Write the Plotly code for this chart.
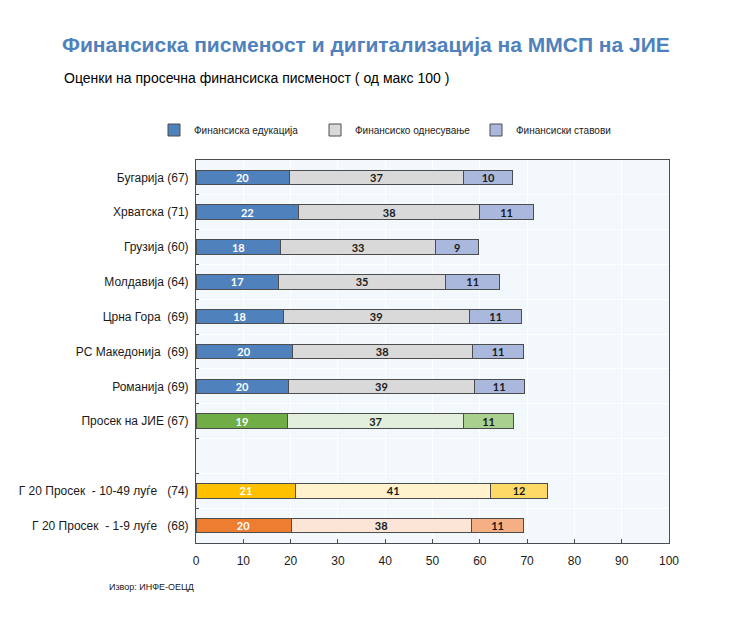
import plotly.graph_objects as go

categories = ["Бугарија (67)", "Хрватска (71)", "Грузија (60)", "Молдавија (64)",
              "Црна\u00a0Гора\u00a0\u00a0(69)", "РС\u00a0Македонија\u00a0\u00a0(69)", "Романија (69)",
              "Просек на ЈИЕ (67)", "\u00a0",
              "Г\u00a020\u00a0Просек\u00a0\u00a0-\u00a010-49\u00a0луѓе\u00a0\u00a0\u00a0(74)",
              "Г\u00a020\u00a0Просек\u00a0\u00a0-\u00a01-9\u00a0луѓе\u00a0\u00a0\u00a0(68)"]
education = [19.7, 21.7, 17.9, 17.4, 18.4, 20.3, 19.6, 19.4, None, 21.1, 20.1]
behaviour = [36.9, 38.3, 32.7, 35.4, 39.4, 38.1, 39.2, 37.1, None, 41.2, 38.1]
attitudes = [10.4, 11.3, 9.2, 11.4, 11.1, 10.9, 10.6, 10.7, None, 12.0, 11.1]
series_names = ["Финансиска едукација", "Финансиско однесување", "Финансиски ставови"]
x_ticks = [0, 10, 20, 30, 40, 50, 60, 70, 80, 90, 100]

BLUE = ["#4f81bd", "#d9d9d9", "#a9b8dc"]
GREEN = ["#70ad47", "#e2efda", "#a9d08e"]
YELLOW = ["#ffc000", "#fff2cc", "#ffd966"]
ORANGE = ["#ed7d31", "#fce4d6", "#f4b084"]
row_palette = [BLUE] * 7 + [GREEN, BLUE, YELLOW, ORANGE]

# page body has an 8px margin: figure coordinates are reference coordinates minus 8
W, H = 722, 618
ML, MR, MT, MB = 188, 61, 152, 83
PW, PH = W - ML - MR, H - MT - MB

fig = go.Figure()
for i, (name, vals) in enumerate(zip(series_names, [education, behaviour, attitudes])):
    colors = [p[i] for p in row_palette]
    fig.add_trace(go.Bar(
        y=categories, x=vals, name=name, orientation="h",
        marker=dict(color=colors, line=dict(color="#4d4d4d", width=1)),
        width=0.42,
        texttemplate="<b>%{x:.0f}</b>", textposition="inside", insidetextanchor="middle",
        textangle=0,
        textfont=dict(family="Lato, Open Sans, sans-serif", size=11,
                      color="white" if i == 0 else "#1a1a1a"),
        hoverinfo="x+name",
    ))

fig.update_layout(
    barmode="stack",
    width=W, height=H,
    margin=dict(l=ML, r=MR, t=MT, b=MB),
    paper_bgcolor="white",
    plot_bgcolor="#f2f8fc",
    uniformtext=dict(minsize=11, mode="show"),
    font=dict(family="Liberation Sans Narrow, Arial Narrow, Liberation Sans, sans-serif", color="#1a1a1a"),
    showlegend=True,
    legend=dict(orientation="h", x=(146 - ML) / PW, xanchor="left",
                y=1 + (MT - 122) / PH, yanchor="middle",
                font=dict(size=10), entrywidth=116, itemwidth=30, itemclick=False,
                traceorder="normal"),
    title=dict(text="<b>Финансиска писменост и дигитализација на ММСП на ЈИЕ</b>",
               x=54 / W, xanchor="left", y=1 - 37 / H, yanchor="middle",
               font=dict(size=21, color="#4f81bd")),
    xaxis=dict(range=[0, 100], tickvals=x_ticks, ticks="inside", ticklen=4,
               tickcolor="#4d4d4d", showgrid=True, gridcolor="white", gridwidth=1,
               showline=True, linecolor="#4d4d4d", linewidth=1, mirror=True,
               tickfont=dict(size=12), ticklabelstandoff=7, zeroline=False, fixedrange=True),
    yaxis=dict(type="category", categoryorder="array", categoryarray=categories,
               autorange="reversed", ticks="inside", ticklen=3, tickson="boundaries",
               tickcolor="#4d4d4d", showgrid=True, gridcolor="white", gridwidth=1,
               showline=True, linecolor="#4d4d4d", linewidth=1, mirror=True,
               tickfont=dict(size=12), ticklabelstandoff=4, fixedrange=True),
)

fig.add_annotation(text="Оценки на просечна финансиска писменост ( од макс 100 )",
                   xref="paper", yref="paper", x=(54 - ML) / PW, xanchor="left",
                   y=1 + (MT - 70) / PH, yanchor="middle", showarrow=False,
                   font=dict(size=14, color="#000000"))
fig.add_annotation(text="Извор: ИНФЕ-ОЕЦД",
                   xref="paper", yref="paper", x=(99 - ML) / PW, xanchor="left",
                   y=-(579 - (H - MB)) / PH, yanchor="middle", showarrow=False,
                   font=dict(size=9, color="#1a1a1a"))

fig.write_html("out.html")
